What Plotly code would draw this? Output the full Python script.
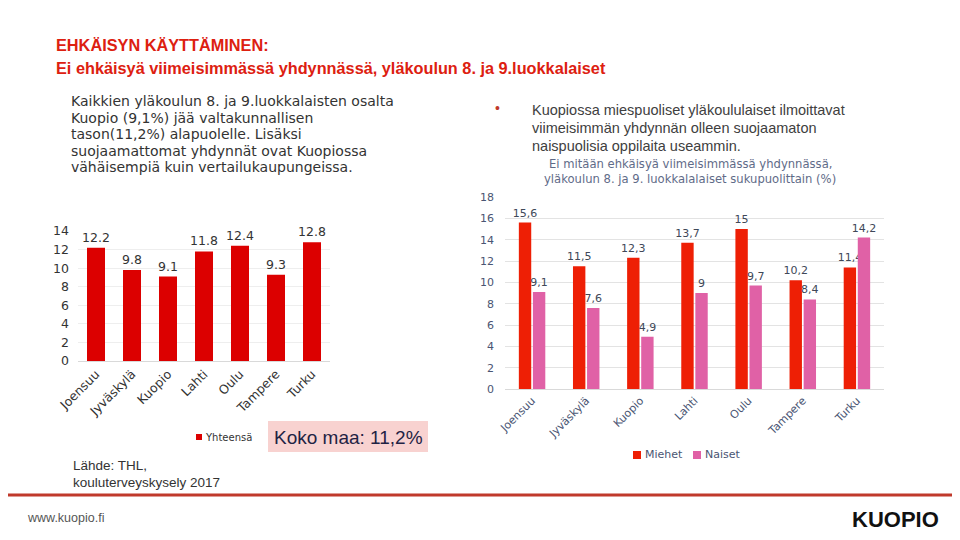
import plotly.graph_objects as go

W, H = 960, 540
OX, OY = 8, 8  # page body offset of the plot div

cities = ["Joensuu", "Jyväskylä", "Kuopio", "Lahti", "Oulu", "Tampere", "Turku"]
total = [12.2, 9.8, 9.1, 11.8, 12.4, 9.3, 12.8]
men = [15.6, 11.5, 12.3, 13.7, 15.0, 10.2, 11.4]
women = [9.1, 7.6, 4.9, 9.0, 9.7, 8.4, 14.2]
left_ticks = [0, 2, 4, 6, 8, 10, 12, 14]
right_ticks = [0, 2, 4, 6, 8, 10, 12, 14, 16, 18]

C_TOTAL = "#dc0000"
C_MEN = "#ee1f05"
C_WOMEN = "#e061a6"


def px(x):
    return (x - OX) / W


def py(y):
    return 1 - (y - OY) / H


def comma(v):
    return f"{v:g}".replace(".", ",")


fig = go.Figure()

fig.add_trace(go.Bar(
    x=cities, y=total, name="Yhteensä", width=0.5, showlegend=False,
    marker=dict(color=C_TOTAL, line=dict(width=0)),
    text=[f"{v:.1f}" for v in total], textposition="outside", cliponaxis=False,
    constraintext="none",
    textfont=dict(family="DejaVu Sans", size=12.5, color="#333333"),
    xaxis="x", yaxis="y",
))

fig.add_trace(go.Bar(
    x=cities, y=men, name="Miehet", showlegend=False,
    marker=dict(color=C_MEN, line=dict(width=0)),
    text=[comma(v) for v in men], textposition="outside", cliponaxis=False,
    constraintext="none",
    textfont=dict(family="DejaVu Sans", size=11, color="#404858"),
    xaxis="x2", yaxis="y2",
))
fig.add_trace(go.Bar(
    x=cities, y=women, name="Naiset", showlegend=False,
    marker=dict(color=C_WOMEN, line=dict(width=0)),
    text=[comma(v) for v in women], textposition="outside", cliponaxis=False,
    constraintext="none",
    textfont=dict(family="DejaVu Sans", size=11, color="#404858"),
    xaxis="x2", yaxis="y2",
))

fig.update_layout(
    width=W, height=H,
    margin=dict(l=0, r=0, t=0, b=0, pad=0, autoexpand=False),
    paper_bgcolor="white", plot_bgcolor="white",
    showlegend=False,
    barmode="group", bargap=0.48, bargroupgap=0.12,
    xaxis=dict(domain=[px(78), px(330)], tickangle=-45, automargin=False,
               tickfont=dict(family="DejaVu Sans", size=12.5, color="#333333"),
               showline=True, linecolor="#d9d9d9", ticks="", showgrid=False),
    yaxis=dict(domain=[py(361), py(231)], range=[0, 14], tickvals=left_ticks,
               automargin=False,
               tickfont=dict(family="DejaVu Sans", size=12.5, color="#333333"),
               showgrid=True, gridcolor="#eeeeee", zeroline=False, ticks="",
               ticklabelstandoff=8, showline=False),
    xaxis2=dict(domain=[px(505), px(884)], tickangle=-45, automargin=False,
                tickfont=dict(family="DejaVu Sans", size=11, color="#4a5573"),
                showline=True, linecolor="#d9d9d9", ticks="", showgrid=False,
                anchor="y2"),
    yaxis2=dict(domain=[py(389), py(197)], range=[0, 18], tickvals=right_ticks,
                automargin=False,
                tickfont=dict(family="DejaVu Sans", size=11, color="#4a5573"),
                showgrid=True, gridcolor="#e3e3e3", zeroline=False, ticks="",
                ticklabelstandoff=10, anchor="x2"),
)

shapes = [
    dict(type="rect", xref="paper", yref="paper", x0=px(268), x1=px(428),
         y0=py(452), y1=py(421), fillcolor="#f8d2d0", line=dict(width=0), layer="below"),
    dict(type="line", xref="paper", yref="paper", x0=0, x1=1,
         y0=py(495), y1=py(495), line=dict(color="#c0392b", width=3)),
]


def square(cx, cy, size, color):
    shapes.append(dict(type="rect", xref="paper", yref="paper",
                       x0=px(cx - size / 2), x1=px(cx + size / 2),
                       y0=py(cy + size / 2), y1=py(cy - size / 2),
                       fillcolor=color, line=dict(width=0)))


square(199, 437, 6, C_TOTAL)
square(637, 455, 8, C_MEN)
square(697, 455, 8, C_WOMEN)

fig.update_layout(shapes=shapes)

ann = []


def text(x, y, s, size, color, family, xanchor="left", yanchor="middle", align="left"):
    ann.append(dict(x=px(x), y=py(y), xref="paper", yref="paper", text=s,
                    showarrow=False, xanchor=xanchor, yanchor=yanchor, align=align,
                    font=dict(size=size, color=color, family=family)))


title_font = "Liberation Sans"
text(54, 45, "<b>EHKÄISYN KÄYTTÄMINEN:</b>", 16.3, "#dd2010", title_font)
text(54, 68, "<b>Ei ehkäisyä viimeisimmässä yhdynnässä, yläkoulun 8. ja 9.luokkalaiset</b>",
     16.3, "#dd2010", title_font)

para = ["Kaikkien yläkoulun 8. ja 9.luokkalaisten osalta",
        "Kuopio (9,1%) jää valtakunnallisen",
        "tason(11,2%) alapuolelle. Lisäksi",
        "suojaamattomat yhdynnät ovat Kuopiossa",
        "vähäisempiä kuin vertailukaupungeissa."]
for i, line in enumerate(para):
    text(69, 101 + i * 16.6, line, 14, "#333333", "DejaVu Sans")

text(497, 108, "•", 14, "#c0392b", "Liberation Sans", xanchor="center")
bullet = ["Kuopiossa miespuoliset yläkoululaiset ilmoittavat",
          "viimeisimmän yhdynnän olleen suojaamaton",
          "naispuolisia oppilaita useammin."]
for i, line in enumerate(bullet):
    text(530, 110 + i * 18, line, 14.5, "#404040", "Liberation Sans")

text(690, 164, "Ei mitään ehkäisyä viimeisimmässä yhdynnässä,", 11.6, "#5f6b88", "DejaVu Sans",
     xanchor="center")
text(690, 179, "yläkoulun 8. ja 9. luokkalalaiset sukupuolittain (%)", 11.6, "#5f6b88",
     "DejaVu Sans", xanchor="center")

# legends
text(203, 437, "Yhteensä", 10, "#333333", "DejaVu Sans")
text(643, 455, "Miehet", 11, "#4a5573", "DejaVu Sans")
text(703, 455, "Naiset", 11, "#4a5573", "DejaVu Sans")

text(348, 437, "Koko maa: 11,2%", 19, "#1f2344", "Liberation Sans", xanchor="center")

text(71, 465, "Lähde: THL,", 13.5, "#333333", "Liberation Sans")
text(71, 482, "kouluterveyskysely 2017", 13.5, "#333333", "Liberation Sans")

text(25, 518, "www.kuopio.fi", 12.5, "#555555", "Liberation Sans")
text(941, 519, "<b>KUOPIO</b>", 22, "#111111", title_font, xanchor="right")

fig.update_layout(annotations=ann)

fig.write_html("out.html")
